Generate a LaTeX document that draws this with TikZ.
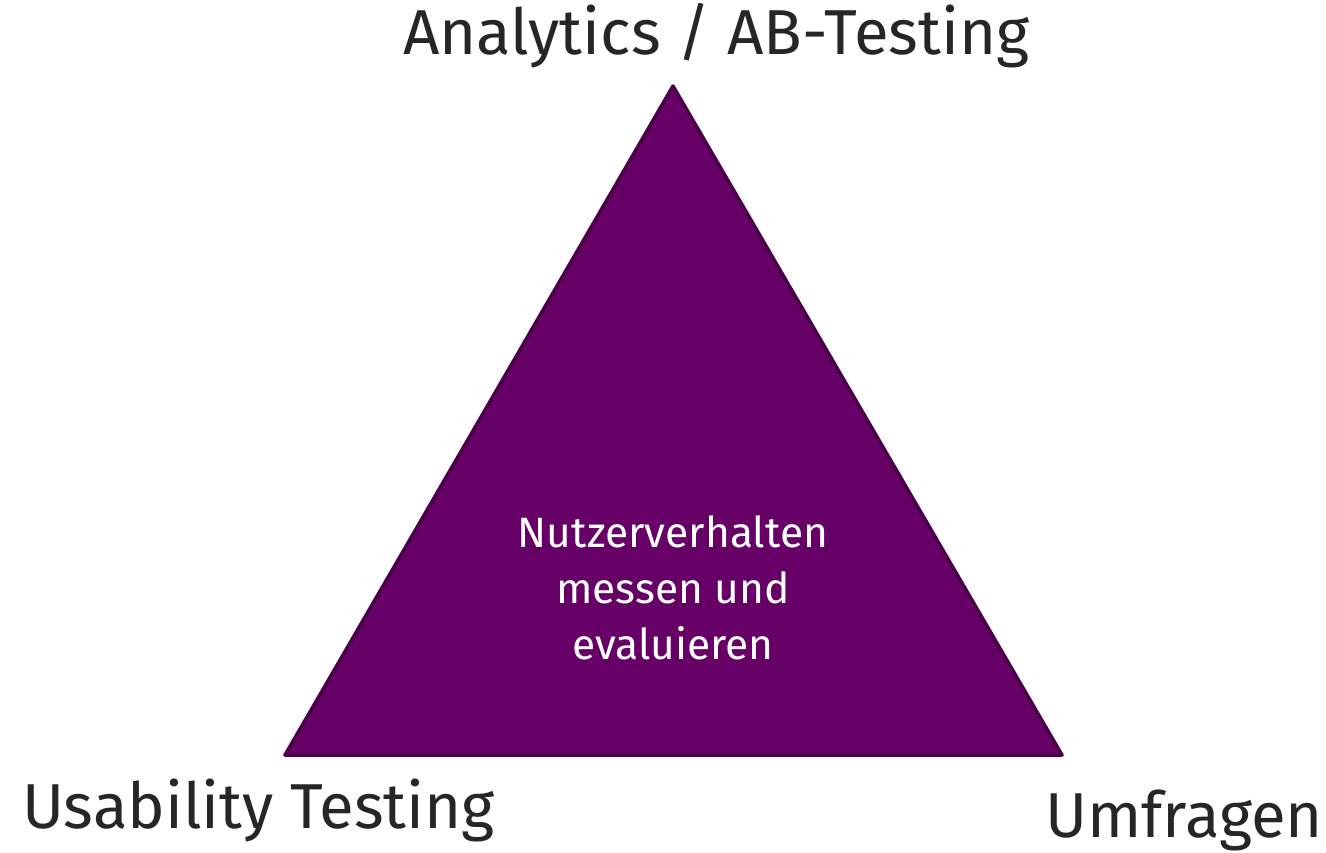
\documentclass[tikz,border=0pt]{standalone}
\usepackage{fontspec}
\setmainfont{Fira Sans}
\definecolor{plum}{HTML}{660066}
\definecolor{plumdark}{HTML}{4A0049}
\definecolor{labelgray}{HTML}{262626}
\begin{document}
\begin{tikzpicture}[x=1pt,y=-1pt,
  corner/.style={font=\fontsize{63.5}{63.5}\selectfont, text=labelgray, inner sep=0pt},
  inner/.style={font=\fontsize{42.5}{56}\selectfont, text=white, align=center, inner sep=0pt}]
  \useasboundingbox (0,0) rectangle (1326,853);
  % triangle
  \coordinate (top) at (673,86);
  \coordinate (bl) at (285,755);
  \coordinate (br) at (1062,755);
  \filldraw[fill=plum, draw=plumdark, line width=3.5pt, line join=round] (top) -- (bl) -- (br) -- cycle;
  % labels
  \node[corner, anchor=base west] (analytics) at (403,55) {Analytics / AB-Testing};
  \node[corner, anchor=base west] (usability) at (22,828) {Usability Testing};
  \node[corner, anchor=base west] (umfragen) at (1045,837) {Umfragen};
  \node[inner, anchor=base] (center) at (673,659) {Nutzerverhalten\\messen und\\evaluieren};
\end{tikzpicture}
\end{document}
